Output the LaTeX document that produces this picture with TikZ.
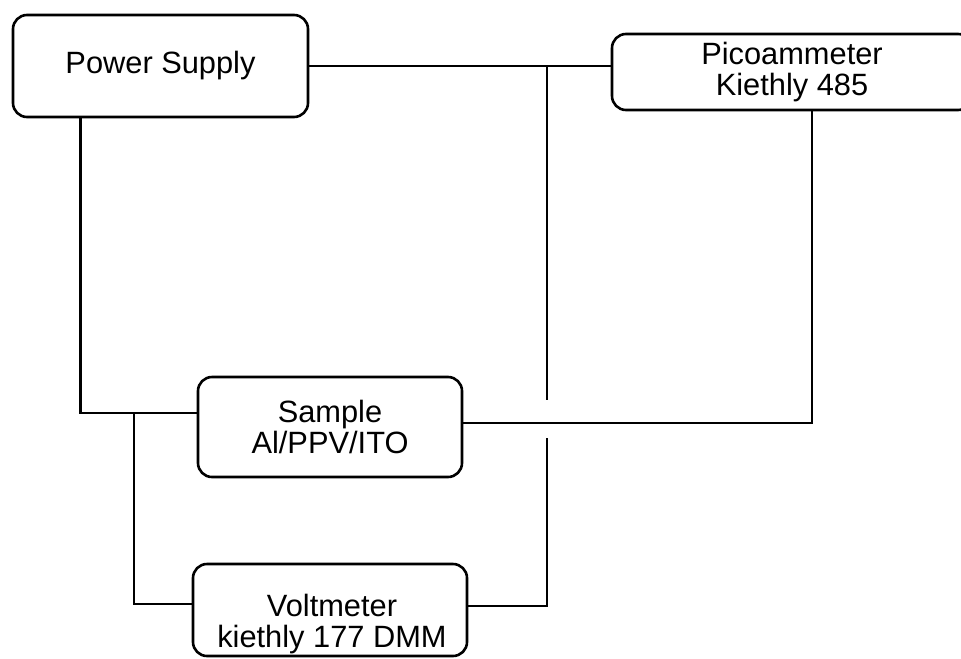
\documentclass[tikz,border=0pt]{standalone}
\usepackage{fontspec}
\setmainfont{Liberation Sans}
\begin{document}
\begin{tikzpicture}[x=0.5pt,y=-0.5pt,line width=1.3pt,font=\fontsize{15.4}{15.8}\selectfont,
  box/.style={draw,rounded corners=7pt,align=center,inner sep=0pt}]
  \useasboundingbox (0,0) rectangle (961,658);
  \node[box,minimum width=147.5pt,minimum height=51pt] (ps) at (160.5,66) {Power Supply};
  \node[box,minimum width=180pt,minimum height=38pt] (pico) at (792,72) {Picoammeter\\Kiethly 485};
  \node[box,minimum width=132pt,minimum height=50pt] (smp) at (330,427) {Sample\\Al/PPV/ITO};
  \node[box,minimum width=137pt,minimum height=46pt] (vm) at (330,610) {};
  \node[align=center] (vmtxt) at (332,624) {Voltmeter\\kiethly 177 DMM};
  \coordinate (gapT) at (547,400);
  \coordinate (gapB) at (547,438);
  \coordinate (jn) at (134,413);
  \draw (ps.east) -- (ps.east -| pico.west);
  \draw (ps.east -| gapT) -- (gapT);
  \draw (gapB) |- ([yshift=2pt]vm.east);
  \draw ([xshift=10pt]pico.south) |- ([yshift=2pt]smp.east);
  \draw ([xshift=-40pt]ps.south) |- ([yshift=7pt]smp.west);
  \draw (jn) |- ([yshift=3pt]vm.west);
\end{tikzpicture}
\end{document}
